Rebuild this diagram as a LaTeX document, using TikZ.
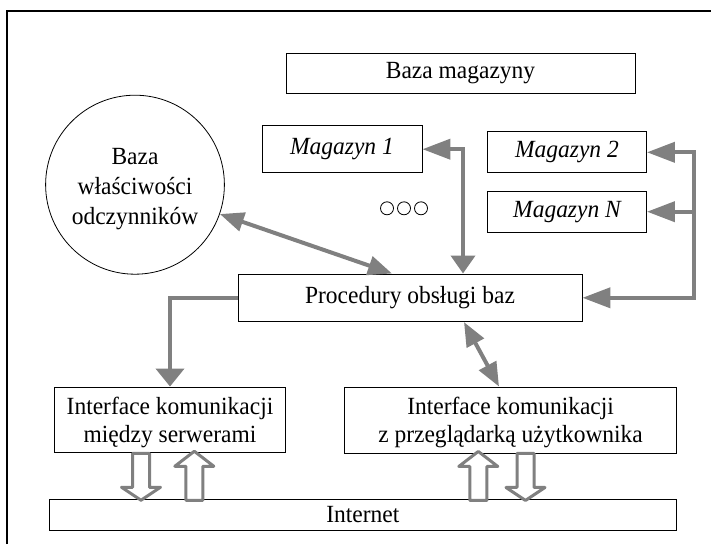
\documentclass[tikz,border=0pt]{standalone}
\usepackage{fontspec}
\setmainfont{Liberation Serif}[FakeStretch=0.95]
\usetikzlibrary{arrows.meta,shapes.geometric,calc}
\definecolor{arrowgray}{RGB}{128,128,128}
\newcommand{\topstrut}[1]{\rule{0pt}{#1}}
\begin{document}
\begin{tikzpicture}[x=1pt,y=-1pt,
  txt/.style={font=\fontsize{24.7pt}{28pt}\selectfont},
  box/.style={draw=black,line width=0.9pt,rectangle,inner sep=0pt,align=center,txt},
  magbox/.style={box,font=\fontsize{24.7pt}{28pt}\selectfont\itshape},
  conn/.style={draw=arrowgray,line width=4pt,line join=miter},
  hhead/.tip={Triangle[length=28pt,width=20pt]},
  vhead/.tip={Triangle[length=18pt,width=24pt]},
  dhead/.tip={Triangle[length=24pt,width=19pt]},
  blockarr/.style={draw=arrowgray,fill=white,line width=3pt,line join=round},
  pics/blockdown/.style={code={\draw[blockarr] (-8.5,0) -- (8.5,0) -- (8.5,34) -- (19.5,34) -- (0,47) -- (-19.5,34) -- (-8.5,34) -- cycle;}},
  pics/blockup/.style={code={\draw[blockarr] (0,-2) -- (19.5,13) -- (8.5,13) -- (8.5,47) -- (-8.5,47) -- (-8.5,13) -- (-19.5,13) -- cycle;}}
]
\useasboundingbox (0,0) rectangle (711,544);
% outer frame
\draw[line width=2pt] (7,544) -- (7,11) -- (711,11);

% nodes
\node[box,minimum width=349pt,minimum height=39.2pt] (bm) at (460.5,73.4) {Baza magazyny};
\node[magbox,minimum width=160pt,minimum height=47.2pt] (m1) at (342,149.2) {Magazyn 1};
\node[magbox,minimum width=159pt,minimum height=41pt] (m2) at (567,152.3) {Magazyn 2};
\node[magbox,minimum width=159pt,minimum height=41.3pt] (mn) at (567,211.7) {Magazyn N};
\node[draw=black,line width=0.8pt,ellipse,minimum width=174pt,minimum height=179pt,inner sep=0pt,align=center,
      font=\fontsize{24.7pt}{30pt}\selectfont] (ell) at (135,184.7) {\topstrut{24pt}Baza\\właściwości\\odczynników};
\node[box,minimum width=344pt,minimum height=47.7pt] (proc) at (410,297.8) {Procedury obsługi baz};
\node[box,minimum width=231.3pt,minimum height=65.8pt] (i1) at (170,419.9) {\topstrut{22pt}Interface komunikacji\\między serwerami};
\node[box,minimum width=331.9pt,minimum height=66pt] (i2) at (510.6,420) {\topstrut{22pt}Interface komunikacji\\z przeglądarką użytkownika};
\node[box,minimum width=627.6pt,minimum height=30.5pt] (net) at (362.8,515) {Internet};

% dots
\foreach \i/\x in {1/387,2/404,3/421}
  \node[circle,draw=black,line width=0.8pt,minimum size=13pt,inner sep=0pt] (dot\i) at (\x,208.3) {};

% helper coordinates
\coordinate (b1) at (463,0);
\coordinate (bus) at (694,0);
\coordinate (p2) at (392,0);
\coordinate (p3) at (464,0);
\coordinate (p4) at (499,0);
\coordinate (ba1) at (141,0);
\coordinate (ba2) at (194.3,0);
\coordinate (ba3) at (478.3,0);
\coordinate (ba4) at (525.5,0);

% connectors
\draw[conn,{hhead}-{vhead}] (m1.east) -- (b1 |- m1.east) -- (b1 |- proc.north);
\draw[conn,{dhead}-{dhead}] (ell) -- (p2 |- proc.north);
\draw[conn,{hhead}-{hhead}] (m2.east) -- (bus |- m2.east) -- (bus |- proc.east) -- (proc.east);
\draw[conn,-{hhead}] (bus |- mn.east) -- (mn.east);
\draw[conn,-{Triangle[length=18pt,width=28pt]}] (proc.west) -| (i1.north);
\draw[conn,{dhead}-{dhead}] (p3 |- proc.south) -- (p4 |- i2.north);

% block arrows
\pic at (ba1 |- i1.south) {blockdown};
\pic at (ba2 |- i1.south) {blockup};
\pic at (ba3 |- i2.south) {blockup};
\pic at (ba4 |- i2.south) {blockdown};
\end{tikzpicture}
\end{document}
